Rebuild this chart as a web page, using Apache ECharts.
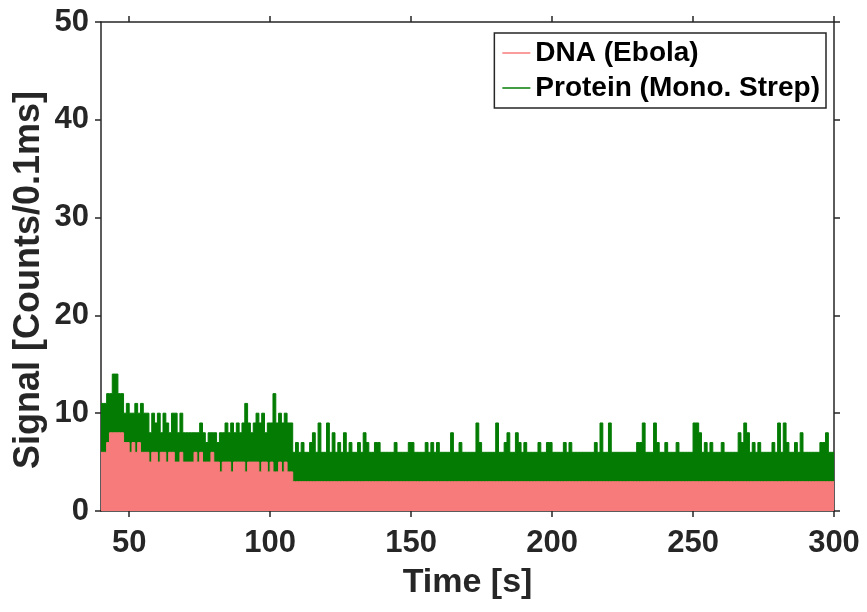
<!DOCTYPE html>
<html>
<head>
<meta charset="utf-8">
<script src="https://cdn.jsdelivr.net/npm/echarts@6/dist/echarts.min.js"></script>
<style>
html,body{margin:0;padding:0;background:#fff;}
#chart{width:867px;height:612px;}
</style>
</head>
<body>
<div id="chart"></div>
<script>
// Time bins: 1 s each, starting at 40 s
const timeStart = 40;
const timeEnd = 300;
const xTickValues = [50, 100, 150, 200, 250, 300];
const yTickValues = [0, 10, 20, 30, 40, 50];
const seriesNames = ['DNA (Ebola)', 'Protein (Mono. Strep)'];
const xTitle = 'Time [s]';
const yTitle = 'Signal [Counts/0.1ms]';

// Protein (Mono. Strep) upper envelope, counts/0.1ms, one value per second from 40 s
const proteinTop = [
  11,11,12,12,14,14,12,12,10,11, 10,10,11,10,11,10,10,8,10,9,
  10,8,10,9,8,10,10,8,10,8, 8,8,8,8,8,9,8,7,8,8,
  8,7,8,8,9,8,9,8,9,8, 9,11,9,8,9,10,9,10,8,9,
  9,12,9,10,9,10,9,9,6,7, 6,7,6,6,7,8,6,9,6,6,
  9,6,8,6,7,6,8,6,7,6, 6,7,6,8,7,6,6,7,7,6,
  6,6,6,6,7,6,6,6,6,7, 7,6,6,6,6,7,6,7,6,7,
  6,6,6,6,8,6,6,7,6,6, 6,6,6,9,7,6,6,6,6,6,
  9,6,6,7,8,6,6,8,7,6, 7,6,6,6,6,7,6,6,7,7,
  6,6,6,6,7,6,7,6,6,6, 6,6,6,6,6,7,6,9,6,6,
  9,6,6,6,6,6,6,6,6,6, 7,7,9,6,6,6,9,7,6,6,
  7,6,6,6,7,6,6,6,6,6, 9,9,8,6,7,6,7,6,6,6,
  7,6,6,6,6,6,8,7,9,8, 6,7,6,7,6,6,6,6,7,6,
  9,6,9,7,6,6,7,6,8,6, 6,6,6,6,6,7,7,8,6,6
];

// DNA (Ebola) upper envelope, counts/0.1ms, one value per second from 40 s
const dnaTop = [
  6,6,7,8,8,8,8,8,7,7, 6,7,6,7,6,6,6,5,6,6,
  5,6,6,5,6,6,5,5,6,5, 5,5,5,6,5,6,5,5,5,6,
  5,5,4,5,5,5,4,5,5,5, 5,4,5,5,5,5,4,5,5,4,
  5,4,4,5,4,5,4,4,3,3, 3,3,3,3,3,3,3,3,3,3,
  3,3,3,3,3,3,3,3,3,3, 3,3,3,3,3,3,3,3,3,3,
  3,3,3,3,3,3,3,3,3,3, 3,3,3,3,3,3,3,3,3,3,
  3,3,3,3,3,3,3,3,3,3, 3,3,3,3,3,3,3,3,3,3,
  3,3,3,3,3,3,3,3,3,3, 3,3,3,3,3,3,3,3,3,3,
  3,3,3,3,3,3,3,3,3,3, 3,3,3,3,3,3,3,3,3,3,
  3,3,3,3,3,3,3,3,3,3, 3,3,3,3,3,3,3,3,3,3,
  3,3,3,3,3,3,3,3,3,3, 3,3,3,3,3,3,3,3,3,3,
  3,3,3,3,3,3,3,3,3,3, 3,3,3,3,3,3,3,3,3,3,
  3,3,3,3,3,3,3,3,3,3, 3,3,3,3,3,3,3,3,3,3
];

function toPairs(vals) {
  const out = vals.map((v, i) => [timeStart + i, v]);
  out.push([timeEnd, vals[vals.length - 1]]);
  return out;
}

const axisColor = '#262626';
const font = 'Liberation Sans, Arial, sans-serif';
const pink = '#F87B7B';
const green = '#047C04';

const chart = echarts.init(document.getElementById('chart'), null, {renderer: 'canvas'});
chart.setOption({
  animation: false,
  backgroundColor: '#ffffff',
  grid: {left: 101, right: 33, top: 22, bottom: 101, containLabel: false},
  graphic: [{
    type: 'text',
    x: 29, y: 280,
    rotation: Math.PI / 2,
    style: {
      text: yTitle,
      fontFamily: font, fontWeight: 'bold', fontSize: 36,
      fill: axisColor, align: 'center', verticalAlign: 'middle'
    }
  }],
  legend: {
    data: seriesNames,
    orient: 'vertical',
    right: 41,
    top: 33,
    icon: 'rect',
    itemWidth: 28,
    itemHeight: 1.5,
    itemGap: 7,
    itemTextGap: 3,
    padding: [6, 6, 6, 8],
    borderColor: axisColor,
    borderWidth: 1.5,
    borderRadius: 0,
    backgroundColor: '#ffffff',
    textStyle: {fontFamily: font, fontWeight: 'bold', fontSize: 28, color: '#000'}
  },
  xAxis: [{
    type: 'value', min: timeStart, max: timeEnd, position: 'bottom',
    name: xTitle, nameLocation: 'middle', nameGap: 55,
    nameTextStyle: {fontFamily: font, fontWeight: 'bold', fontSize: 34, color: axisColor},
    axisLine: {show: true, onZero: false, lineStyle: {color: axisColor, width: 1.5}},
    axisTick: {show: true, length: 6, inside: false, customValues: xTickValues, lineStyle: {color: axisColor, width: 1.5}},
    axisLabel: {customValues: xTickValues, fontFamily: font, fontWeight: 'bold', fontSize: 31, color: axisColor, margin: 17},
    splitLine: {show: false}
  }, {
    type: 'value', min: timeStart, max: timeEnd, position: 'top',
    axisLine: {show: true, onZero: false, lineStyle: {color: axisColor, width: 1.5}},
    axisTick: {show: true, length: 6, inside: false, customValues: xTickValues, lineStyle: {color: axisColor, width: 1.5}},
    axisLabel: {show: false},
    splitLine: {show: false}
  }],
  yAxis: [{
    type: 'value', min: 0, max: 50, interval: 10, position: 'left',
    axisLine: {show: true, onZero: false, lineStyle: {color: axisColor, width: 1.5}},
    axisTick: {show: true, length: 6, inside: false, customValues: yTickValues, lineStyle: {color: axisColor, width: 1.5}},
    axisLabel: {customValues: yTickValues, fontFamily: font, fontWeight: 'bold', fontSize: 31, color: axisColor, margin: 12},
    splitLine: {show: false}
  }, {
    type: 'value', min: 0, max: 50, interval: 10, position: 'right',
    axisLine: {show: true, onZero: false, lineStyle: {color: axisColor, width: 1.5}},
    axisTick: {show: true, length: 6, inside: false, customValues: yTickValues, lineStyle: {color: axisColor, width: 1.5}},
    axisLabel: {show: false},
    splitLine: {show: false}
  }],
  series: [{
    name: seriesNames[1], type: 'line', step: 'end', symbol: 'none', z: 2,
    xAxisIndex: 0, yAxisIndex: 0,
    data: toPairs(proteinTop),
    itemStyle: {color: green},
    lineStyle: {color: green, width: 1},
    areaStyle: {color: green, opacity: 1, origin: 'start'}
  }, {
    name: seriesNames[0], type: 'line', step: 'end', symbol: 'none', z: 3,
    xAxisIndex: 0, yAxisIndex: 0,
    data: toPairs(dnaTop),
    itemStyle: {color: pink},
    lineStyle: {color: pink, width: 1},
    areaStyle: {color: pink, opacity: 1, origin: 'start'}
  }]
});
</script>
</body>
</html>
